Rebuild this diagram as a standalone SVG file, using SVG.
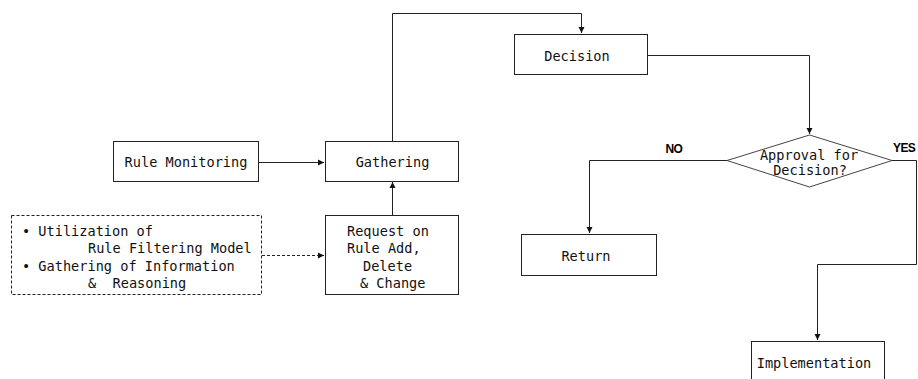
<svg xmlns="http://www.w3.org/2000/svg" width="918" height="379" viewBox="0 0 918 379">
<defs>
<style>
.box{fill:#fff;stroke:#222;stroke-width:1}
.dash{fill:#fff;stroke:#222;stroke-width:1;stroke-dasharray:3,2}
.dia{fill:#fff;stroke:#444;stroke-width:1}
.t{font-family:"DejaVu Sans Mono","Liberation Mono",monospace;font-size:13.6px;fill:#111}
.c{text-anchor:middle}
.lbl{font-family:"Liberation Sans",Arial,sans-serif;font-size:12px;font-weight:bold;fill:#000;letter-spacing:-0.6px}
.ln{fill:none;stroke:#222;stroke-width:1}
.ld{fill:none;stroke:#222;stroke-width:1;stroke-dasharray:3,2}
</style>
<marker id="ah" markerUnits="userSpaceOnUse" markerWidth="8" markerHeight="8" refX="7" refY="4" orient="auto">
<path d="M1,1 L7,4 L1,7 Z" fill="#111"/>
</marker>
</defs>
<rect width="918" height="379" fill="#fff"/>
<g id="connectors">
<path class="ln" d="M259,162.5 H324" marker-end="url(#ah)"/>
<path class="ln" d="M392.5,215 V182" marker-end="url(#ah)"/>
<path class="ld" d="M262,255.5 H324" marker-end="url(#ah)"/>
<path class="ln" d="M392.5,141 V13.5 H581.5 V33" marker-end="url(#ah)"/>
<path class="ln" d="M648,55.5 H809.5 V134" marker-end="url(#ah)"/>
<path class="ln" d="M727,160.5 H589.5 V233" marker-end="url(#ah)"/>
<path class="ln" d="M892,160.5 H916.5 V264.5 H817.5 V340" marker-end="url(#ah)"/>
</g>
<g id="rule-monitoring">
<rect class="box" x="113.5" y="141.5" width="145" height="40"/>
<text class="t c" x="186" y="167">Rule Monitoring</text>
</g>
<g id="gathering">
<rect class="box" x="325.5" y="141.5" width="133" height="40"/>
<text class="t c" x="392.5" y="167">Gathering</text>
</g>
<g id="request">
<rect class="box" x="325.5" y="215.5" width="133" height="79"/>
<text class="t" x="347" y="236">Request on</text>
<text class="t" x="347" y="253">Rule Add,</text>
<text class="t" x="363" y="270.5">Delete</text>
<text class="t" x="360" y="287.5">&amp; Change</text>
</g>
<g id="filtering-note">
<rect class="dash" x="11.5" y="215.5" width="250" height="79"/>
<text class="t" x="22" y="236" xml:space="preserve">• Utilization of</text>
<text class="t" x="88" y="253">Rule Filtering Model</text>
<text class="t" x="22" y="270.5" xml:space="preserve">• Gathering of Information</text>
<text class="t" x="88" y="287.5" xml:space="preserve">&amp;  Reasoning</text>
</g>
<g id="decision">
<rect class="box" x="514.5" y="34.5" width="133" height="40"/>
<text class="t c" x="577" y="61">Decision</text>
</g>
<g id="approval">
<path class="dia" d="M809.5,135 L892,160.5 L809.5,187 L727,160.5 Z"/>
<text class="t c" x="809" y="160">Approval for</text>
<text class="t c" x="810" y="175">Decision?</text>
</g>
<text class="lbl" x="665.5" y="152.5">NO</text>
<text class="lbl" x="893" y="152">YES</text>
<g id="return">
<rect class="box" x="521.5" y="234.5" width="135" height="41"/>
<text class="t c" x="586" y="261">Return</text>
</g>
<g id="implementation">
<rect class="box" x="751.5" y="341.5" width="133" height="45"/>
<text class="t c" x="814" y="367.5">Implementation</text>
</g>
</svg>
